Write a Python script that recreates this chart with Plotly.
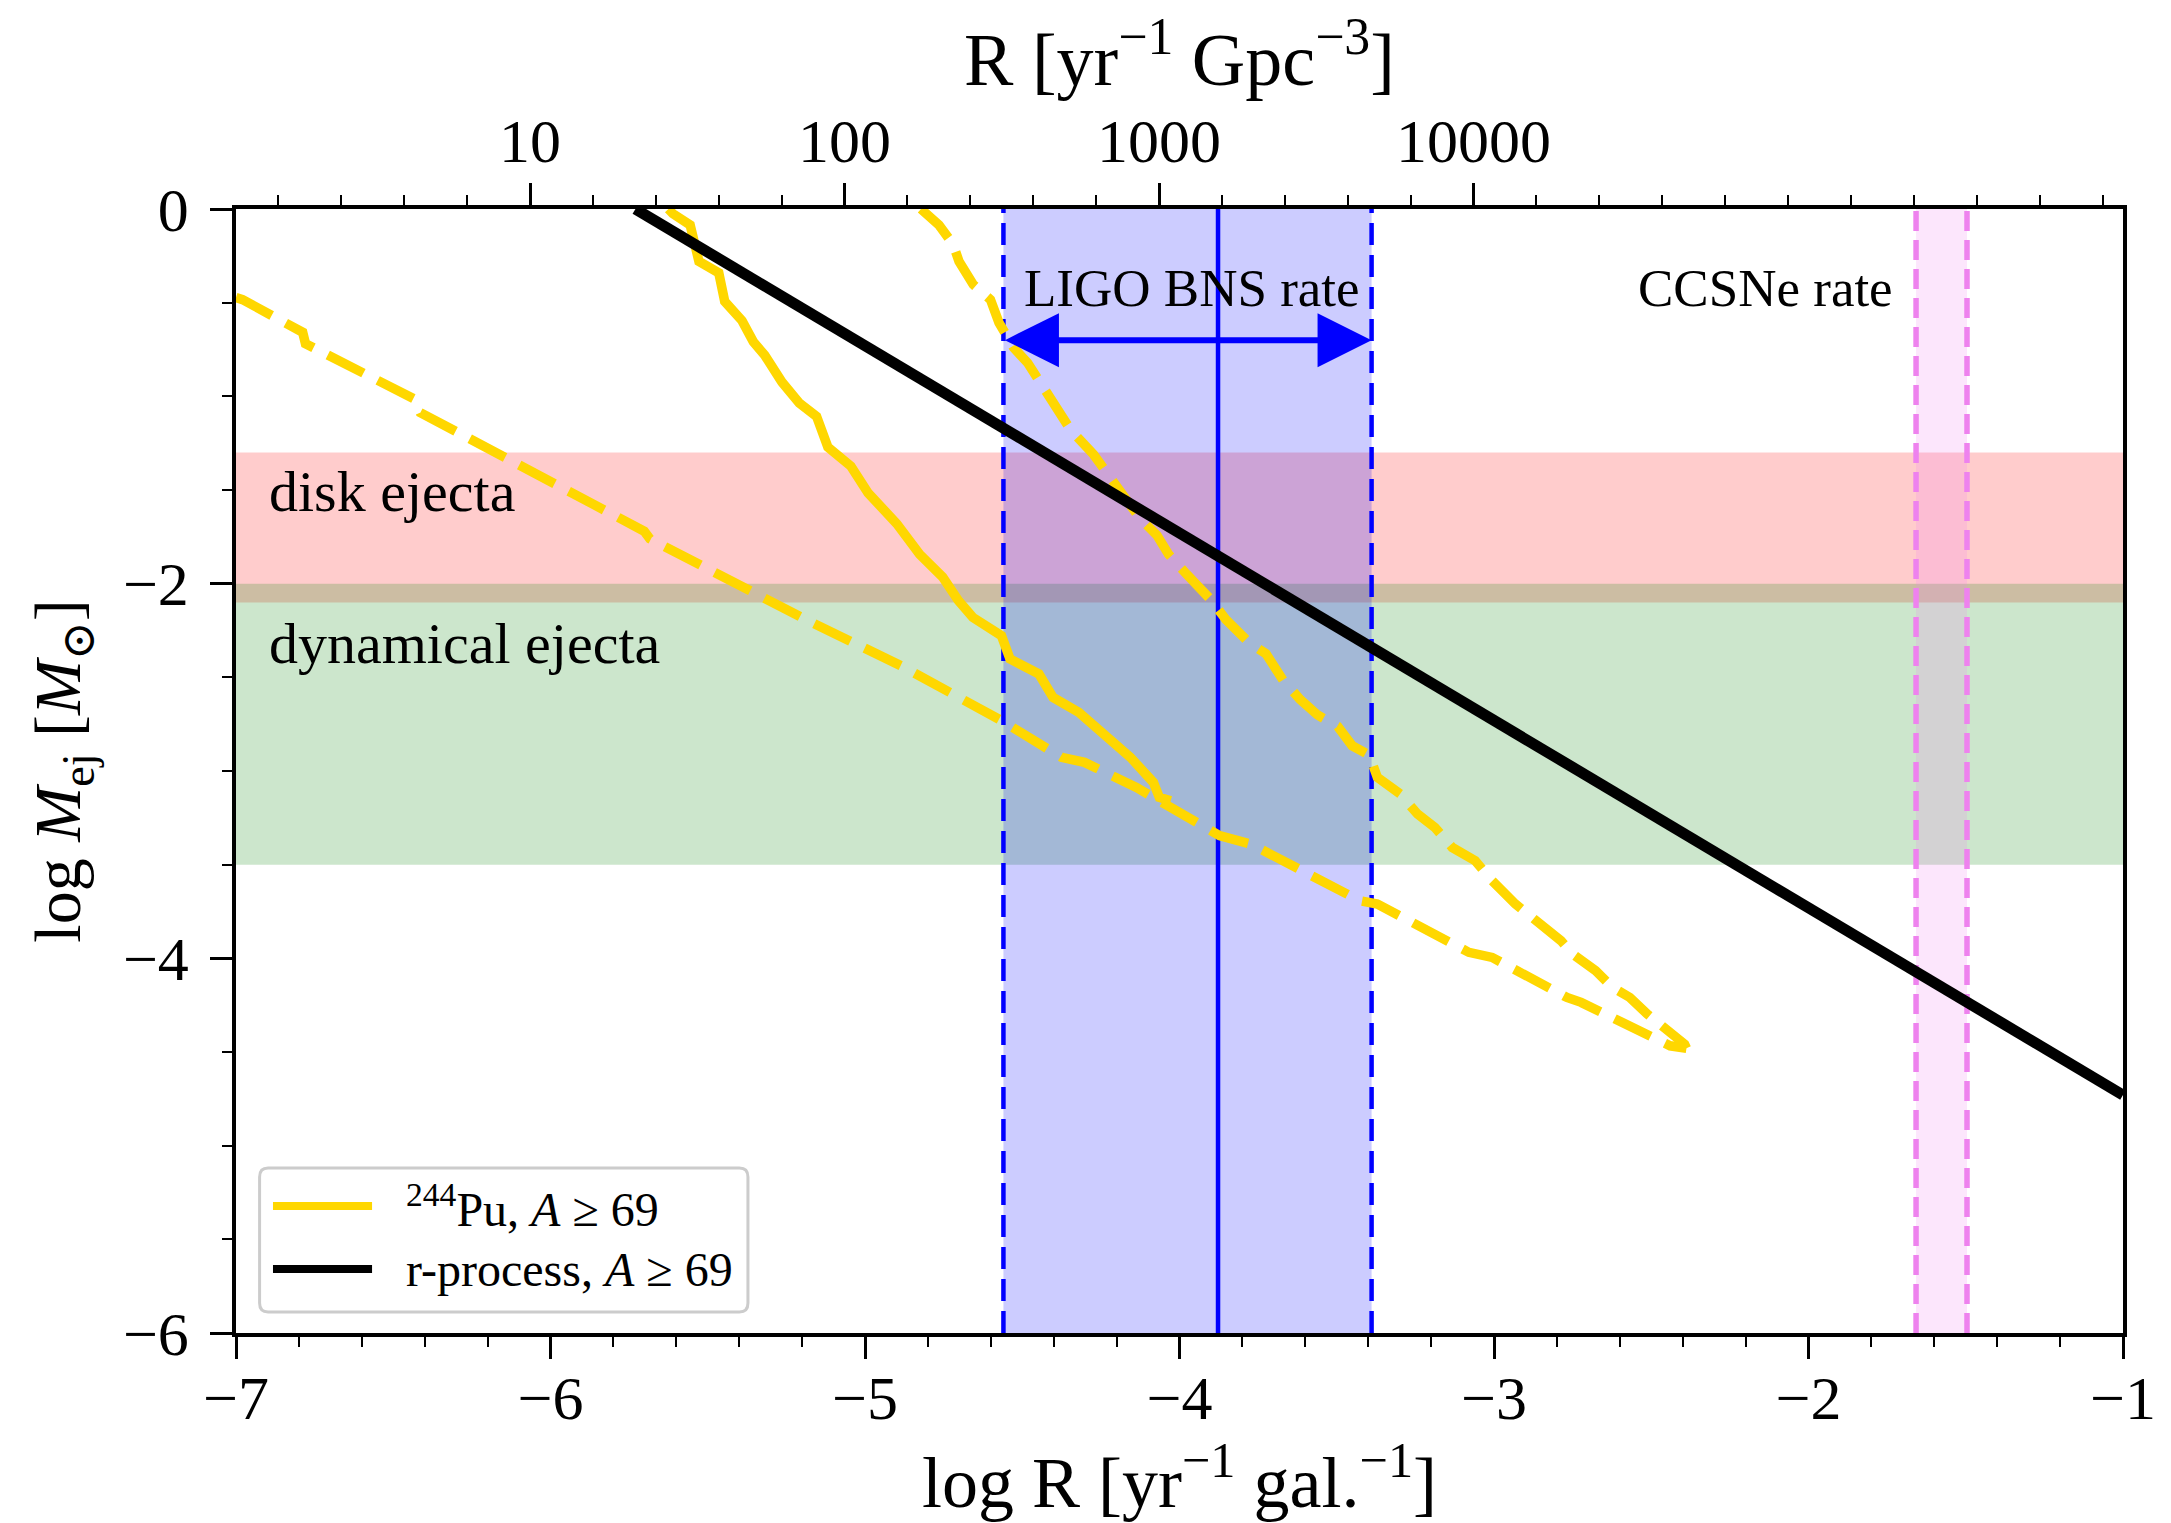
import math
import plotly.graph_objects as go

# ---------------- data ----------------
GAL_TO_GPC_OFFSET = 7.065   # log10(gal per Gpc^3) used for the top axis

# r-process, A >= 69 (black line)
rproc_logR = [-5.73, -1.0]
rproc_logM = [0.0, -4.73]

# 244Pu, A >= 69 : inner (solid) contour
pu_inner_logR = [-5.625, -5.611, -5.556, -5.528, -5.465, -5.446, -5.391, -5.355, -5.319, -5.264,
                 -5.209, -5.154, -5.118, -5.045, -4.990, -4.899, -4.826, -4.753, -4.703, -4.657,
                 -4.566, -4.539, -4.447, -4.402, -4.320, -4.238, -4.156, -4.083, -4.064, -4.028]
pu_inner_logM = [0.0, -0.025, -0.085, -0.280, -0.341, -0.494, -0.596, -0.709, -0.780, -0.924,
                 -1.036, -1.107, -1.271, -1.373, -1.516, -1.680, -1.843, -1.965, -2.091, -2.180,
                 -2.278, -2.402, -2.482, -2.607, -2.687, -2.812, -2.927, -3.061, -3.141, -3.159]

# 244Pu, A >= 69 : outer (dashed) contour, upper branch
pu_upper_logR = [-4.822, -4.765, -4.720, -4.701, -4.656, -4.601, -4.574, -4.528, -4.483, -4.437,
                 -4.400, -4.346, -4.273, -4.227, -4.172, -4.127, -4.072, -4.035, -3.980, -3.944,
                 -3.899, -3.853, -3.780, -3.725, -3.670, -3.616, -3.561, -3.497, -3.451, -3.396,
                 -3.371, -3.298, -3.243, -3.188, -3.133, -3.060, -3.006, -2.932, -2.860, -2.787,
                 -2.750, -2.677, -2.623, -2.568, -2.513, -2.440, -2.394, -2.388]
pu_upper_logM = [0.0, -0.085, -0.188, -0.280, -0.403, -0.484, -0.607, -0.739, -0.821, -0.944,
                 -1.036, -1.179, -1.311, -1.423, -1.557, -1.649, -1.741, -1.843, -1.945, -2.006,
                 -2.088, -2.190, -2.313, -2.374, -2.517, -2.619, -2.701, -2.762, -2.865, -2.916,
                 -3.034, -3.123, -3.230, -3.301, -3.408, -3.479, -3.586, -3.710, -3.800, -3.906,
                 -3.977, -4.066, -4.155, -4.209, -4.297, -4.387, -4.458, -4.480]
# 244Pu, A >= 69 : outer (dashed) contour, lower branch
pu_lower_logR = [-7.0, -6.979, -6.788, -6.779, -6.432, -6.414, -5.702, -5.684, -5.190, -4.886,
                 -4.566, -4.375, -4.302, -4.137, -3.873, -3.773, -3.426, -3.371, -3.080, -3.006,
                 -2.768, -2.723, -2.440, -2.388]
pu_lower_logM = [-0.473, -0.484, -0.658, -0.719, -1.015, -1.087, -1.720, -1.761, -2.190, -2.438,
                 -2.731, -2.927, -2.954, -3.088, -3.345, -3.390, -3.693, -3.710, -3.968, -3.995,
                 -4.209, -4.235, -4.467, -4.480]

# ejecta mass bands (log M)
disk_band = [-2.1, -1.3]
dyn_band = [-3.5, -2.0]

# LIGO BNS rate [Gpc^-3 yr^-1]: low, median, high
ligo_rate_gpc = [320, 1540, 4740]
# CCSNe rate band, log R [yr^-1 gal^-1]
ccsne_band = [-1.658, -1.496]

top_tick_vals_gpc = [10, 100, 1000, 10000]
top_tick_labels = ["10", "100", "1000", "10000"]
bottom_ticks = [-7, -6, -5, -4, -3, -2, -1]
left_ticks = [0, -2, -4, -6]

legend_labels = ["<sup>244</sup>Pu, <i>A</i> ≥ 69", "r-process, <i>A</i> ≥ 69"]

# ---------------- figure ----------------
ligo_logR = [math.log10(v) - GAL_TO_GPC_OFFSET for v in ligo_rate_gpc]
top_tick_pos = [math.log10(v) - GAL_TO_GPC_OFFSET for v in top_tick_vals_gpc]

FONT = "Liberation Serif, DejaVu Serif, serif"
GOLD = "#FFD700"

fig = go.Figure()

shapes = [
    dict(type="rect", xref="x", yref="y", x0=-7, x1=-1, y0=disk_band[0], y1=disk_band[1],
         fillcolor="rgba(255,0,0,0.2)", line_width=0, layer="below"),
    dict(type="rect", xref="x", yref="y", x0=-7, x1=-1, y0=dyn_band[0], y1=dyn_band[1],
         fillcolor="rgba(0,128,0,0.2)", line_width=0, layer="below"),
    dict(type="rect", xref="x", yref="y", x0=ligo_logR[0], x1=ligo_logR[2], y0=-6, y1=0,
         fillcolor="rgba(0,0,255,0.2)", line_width=0, layer="below"),
    dict(type="rect", xref="x", yref="y", x0=ccsne_band[0], x1=ccsne_band[1], y0=-6, y1=0,
         fillcolor="rgba(238,130,238,0.2)", line_width=0, layer="below"),
]
for xv in (ligo_logR[0], ligo_logR[2]):
    shapes.append(dict(type="line", xref="x", yref="y", x0=xv, x1=xv, y0=-6, y1=0,
                       line=dict(color="blue", width=4.5, dash="22px,10px"), layer="below"))
shapes.append(dict(type="line", xref="x", yref="y", x0=ligo_logR[1], x1=ligo_logR[1], y0=-6, y1=0,
                   line=dict(color="blue", width=4.5), layer="below"))
for xv in ccsne_band:
    shapes.append(dict(type="line", xref="x", yref="y", x0=xv, x1=xv, y0=-6, y1=0,
                       line=dict(color="violet", width=5.5, dash="20px,9px"), layer="below"))

# Pu contours
fig.add_trace(go.Scatter(x=pu_inner_logR, y=pu_inner_logM, mode="lines",
                         line=dict(color=GOLD, width=9.5), name=legend_labels[0],
                         showlegend=False))
fig.add_trace(go.Scatter(x=pu_upper_logR, y=pu_upper_logM, mode="lines",
                         line=dict(color=GOLD, width=9.5, dash="40px,16px"), name=legend_labels[0],
                         showlegend=False))
fig.add_trace(go.Scatter(x=pu_lower_logR, y=pu_lower_logM, mode="lines",
                         line=dict(color=GOLD, width=9.5, dash="40px,16px"), name=legend_labels[0],
                         showlegend=False))
fig.add_trace(go.Scatter(x=rproc_logR, y=rproc_logM, mode="lines",
                         line=dict(color="black", width=11), name=legend_labels[1],
                         showlegend=False))
# dummy trace for the top axis
fig.add_trace(go.Scatter(x=[-7, -1], y=[-10, -10], xaxis="x2", mode="lines",
                         line=dict(width=0), showlegend=False, hoverinfo="skip"))

# ---- legend box (drawn manually to match the long, thick handles) ----
lx0, lx1, ly0, ly1 = 0.0125, 0.2713, 0.0187, 0.1468
rx, ry = 0.0045, 0.008
box_path = (f"M{lx0+rx},{ly0} L{lx1-rx},{ly0} Q{lx1},{ly0} {lx1},{ly0+ry} "
            f"L{lx1},{ly1-ry} Q{lx1},{ly1} {lx1-rx},{ly1} L{lx0+rx},{ly1} "
            f"Q{lx0},{ly1} {lx0},{ly1-ry} L{lx0},{ly0+ry} Q{lx0},{ly0} {lx0+rx},{ly0} Z")
shapes.append(dict(type="path", xref="paper", yref="paper", path=box_path,
                   fillcolor="rgba(255,255,255,0.85)", line=dict(color="#cccccc", width=3), layer="above"))
legend_rows_y = [0.113, 0.0569]
legend_colors = [GOLD, "black"]
for yy, col in zip(legend_rows_y, legend_colors):
    shapes.append(dict(type="line", xref="paper", yref="paper", x0=0.0196, x1=0.0721, y0=yy, y1=yy,
                       line=dict(color=col, width=8), layer="above"))

annotations = [
    dict(x=ligo_logR[2], y=-0.70, ax=ligo_logR[0], ay=-0.70, xref="x", yref="y", axref="x", ayref="y",
         text="", showarrow=True, arrowhead=2, startarrowhead=2, arrowside="end+start",
         arrowsize=1.8, startarrowsize=1.8, arrowwidth=6,
         arrowcolor="blue", standoff=0, startstandoff=0),
    dict(x=-4.50, y=-0.42, xref="x", yref="y", text="LIGO BNS rate", showarrow=False,
         xanchor="left", yanchor="middle", font=dict(family=FONT, size=53, color="black")),
    dict(x=-2.55, y=-0.42, xref="x", yref="y", text="CCSNe rate", showarrow=False,
         xanchor="left", yanchor="middle", font=dict(family=FONT, size=53, color="black")),
    dict(x=-6.90, y=-1.51, xref="x", yref="y", text="disk ejecta", showarrow=False,
         xanchor="left", yanchor="middle", font=dict(family=FONT, size=58, color="black")),
    dict(x=-6.90, y=-2.32, xref="x", yref="y", text="dynamical ejecta", showarrow=False,
         xanchor="left", yanchor="middle", font=dict(family=FONT, size=58, color="black")),
]
for yy, lab in zip(legend_rows_y, legend_labels):
    annotations.append(dict(x=0.0888, y=yy, xref="paper", yref="paper", text=lab, showarrow=False,
                            xanchor="left", yanchor="middle",
                            font=dict(family=FONT, size=48, color="black")))

tickfont = dict(family=FONT, size=62, color="black")

fig.update_layout(
    width=2163, height=1515,
    margin=dict(l=228, r=48, t=201, b=190, autoexpand=False),
    paper_bgcolor="white", plot_bgcolor="white",
    shapes=shapes, annotations=annotations,
    font=dict(family=FONT, color="black"),
    showlegend=False,
    xaxis=dict(range=[-7, -1], tickvals=bottom_ticks,
               ticktext=[str(v).replace("-", "−") for v in bottom_ticks],
               ticks="outside", ticklen=22, tickwidth=2.5, tickcolor="black",
               minor=dict(ticks="outside", tick0=-7, dtick=0.2, ticklen=10, tickwidth=1.5, tickcolor="black"),
               showline=True, linewidth=3.5, linecolor="black", mirror=False,
               showgrid=False, zeroline=False, tickfont=tickfont, ticklabelstandoff=-14,
               title=dict(text="log R [yr<sup>−1</sup> gal.<sup>−1</sup>]",
                          font=dict(family=FONT, size=72, color="black"), standoff=26)),
    xaxis2=dict(range=[-7, -1], overlaying="x", side="top", anchor="y",
                tickvals=top_tick_pos, ticktext=top_tick_labels,
                ticks="outside", ticklen=22, tickwidth=2.5, tickcolor="black",
                minor=dict(ticks="outside", tick0=top_tick_pos[0], dtick=0.2, ticklen=10, tickwidth=1.5,
                           tickcolor="black"),
                showline=True, linewidth=3.5, linecolor="black",
                showgrid=False, zeroline=False, tickfont=tickfont, ticklabelstandoff=-4,
                title=dict(text="R [yr<sup>−1</sup> Gpc<sup>−3</sup>]",
                           font=dict(family=FONT, size=74, color="black"), standoff=14)),
    yaxis=dict(range=[-6, 0], tickvals=left_ticks,
               ticktext=[str(v).replace("-", "−") for v in left_ticks],
               ticks="outside", ticklen=22, tickwidth=2.5, tickcolor="black",
               minor=dict(ticks="outside", tick0=0, dtick=0.5, ticklen=10, tickwidth=1.5, tickcolor="black"),
               showline=True, linewidth=3.5, linecolor="black", mirror=True,
               showgrid=False, zeroline=False, tickfont=tickfont, ticklabelstandoff=9,
               title=dict(text="log <i>M</i><sub>ej</sub> [<i>M</i><sub>⊙</sub>]",
                          font=dict(family=FONT, size=66, color="black"), standoff=22)),
)

fig.write_html("out.html")
